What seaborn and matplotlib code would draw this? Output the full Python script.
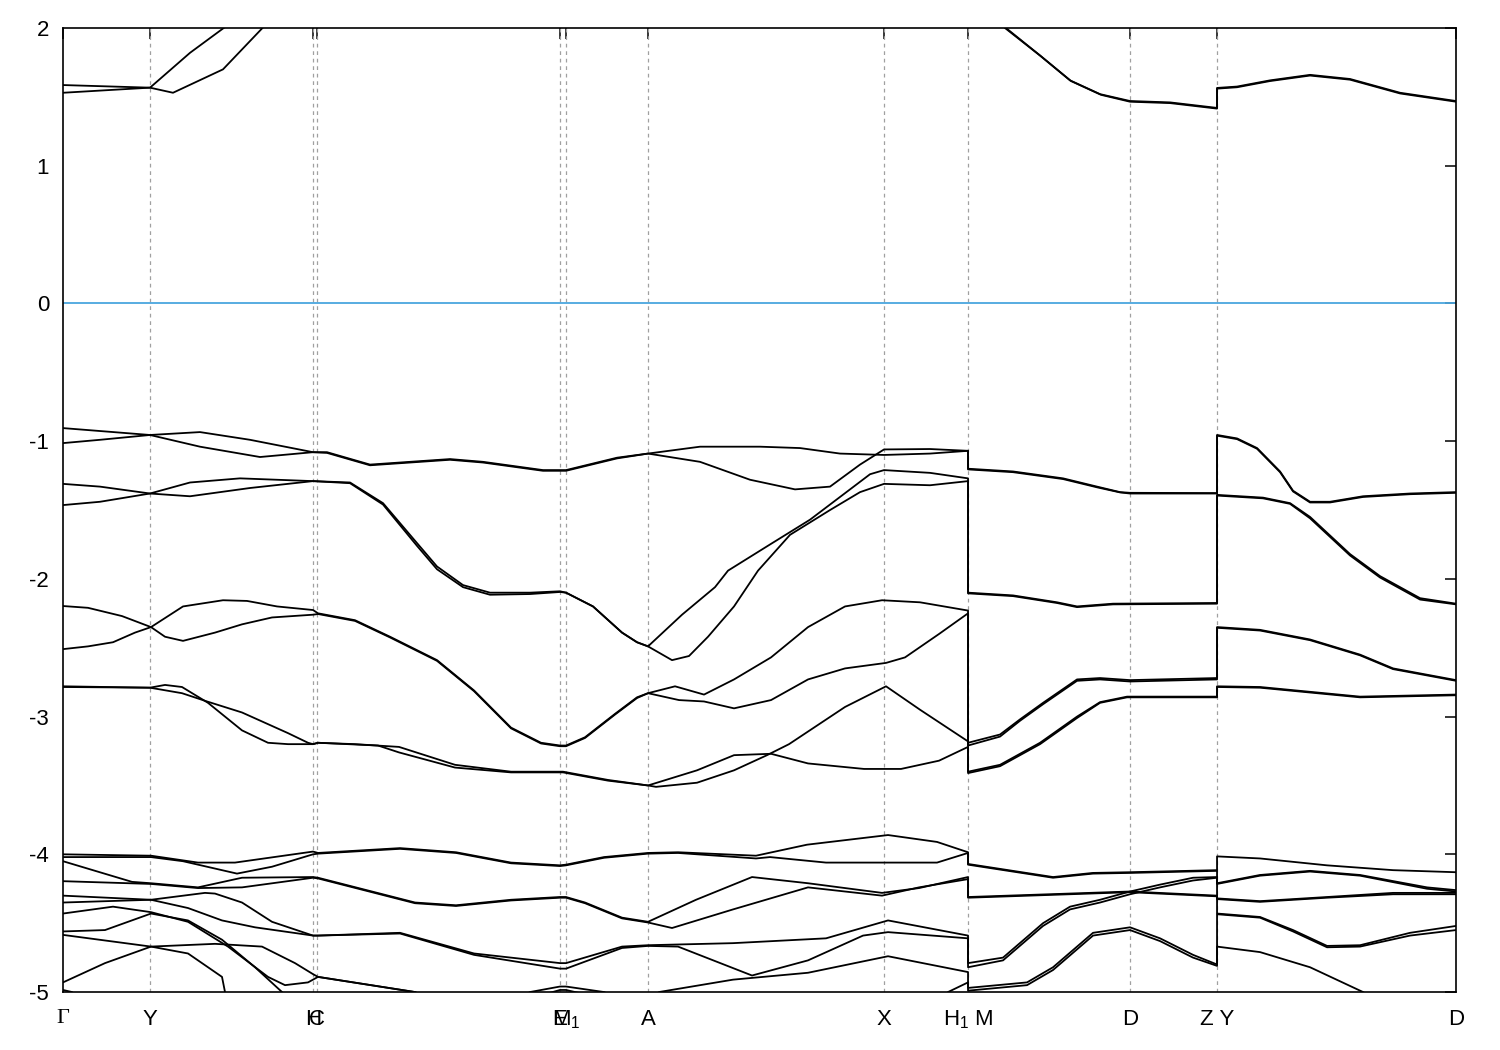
import matplotlib
matplotlib.use("Agg")
import matplotlib.pyplot as plt
import seaborn as sns
import pandas as pd

# high-symmetry points along the k-path
kpoint_pos = [0.0, 0.87, 2.50, 2.54, 4.97, 5.03, 5.85, 8.21, 9.05, 10.67, 11.54, 13.93]
kpoint_labels = ["Γ", "Y", "H", "C", "E", "M$_1$", "A", "X", "H$_1$ M", "D", "Z Y", "D"]
energy_ticks = [2, 1, 0, -1, -2, -3, -4, -5]
fermi_level = 0.0

# conduction bands (k, E)
cb1 = [(0, 1.586), (0.87, 1.567), (1.27, 1.82), (1.70, 2.05)]
cb2 = [(0, 1.53), (0.87, 1.567), (1.10, 1.53), (1.60, 1.70), (2.06, 2.05)]
cb3 = [(9.37, 2.05), (9.42, 2.0), (9.77, 1.80), (10.07, 1.62), (10.37, 1.52), (10.67, 1.47),
       (11.07, 1.46), (11.54, 1.42), (11.54, 1.565), (11.74, 1.575), (12.07, 1.62),
       (12.47, 1.66), (12.87, 1.63), (13.37, 1.53), (13.93, 1.47)]
cb4 = [(9.38, 2.05), (9.43, 2.0), (9.78, 1.795), (10.08, 1.615), (10.38, 1.515), (10.67, 1.465),
       (11.07, 1.455), (11.54, 1.415), (11.54, 1.56), (11.74, 1.57), (12.07, 1.615),
       (12.47, 1.655), (12.87, 1.625), (13.37, 1.525), (13.93, 1.465)]

# valence bands near -1 ... -1.5 eV
v1 = [(0, -0.905), (0.87, -0.955), (1.37, -0.934), (1.87, -0.99), (2.50, -1.08), (2.64, -1.08),
      (3.07, -1.17), (3.87, -1.13), (4.20, -1.15), (4.80, -1.21), (4.97, -1.21), (5.03, -1.21),
      (5.54, -1.12), (5.85, -1.09), (6.37, -1.04), (6.97, -1.04), (7.37, -1.05), (7.77, -1.09),
      (8.21, -1.10), (8.67, -1.09), (9.05, -1.07), (9.05, -1.20), (9.50, -1.22), (10.0, -1.27),
      (10.34, -1.33), (10.57, -1.37), (10.67, -1.375), (11.54, -1.377), (11.54, -0.955),
      (11.74, -0.98), (11.94, -1.05), (12.17, -1.22), (12.30, -1.36), (12.47, -1.44),
      (12.67, -1.44), (13.0, -1.40), (13.47, -1.38), (13.93, -1.37)]
v2 = [(0, -1.014), (0.37, -0.99), (0.87, -0.955), (1.37, -1.04), (1.97, -1.115), (2.50, -1.08),
      (2.64, -1.085), (3.07, -1.175), (3.87, -1.135), (4.20, -1.155), (4.80, -1.215),
      (4.97, -1.215), (5.03, -1.215), (5.54, -1.125), (5.85, -1.09), (6.37, -1.15), (6.87, -1.28),
      (7.32, -1.35), (7.67, -1.33), (7.97, -1.17), (8.21, -1.06), (8.67, -1.057), (9.05, -1.07),
      (9.05, -1.205), (9.50, -1.225), (10.0, -1.275), (10.34, -1.335), (10.57, -1.372),
      (10.67, -1.38), (11.54, -1.38), (11.54, -0.96), (11.74, -0.985), (11.94, -1.055),
      (12.17, -1.225), (12.30, -1.365), (12.47, -1.445), (12.67, -1.445), (13.0, -1.405),
      (13.47, -1.385), (13.93, -1.375)]
v3 = [(0, -1.31), (0.37, -1.33), (0.87, -1.38), (1.27, -1.30), (1.77, -1.27), (2.50, -1.29),
      (2.87, -1.30), (3.20, -1.45), (3.54, -1.74), (3.74, -1.91), (4.00, -2.045), (4.27, -2.10),
      (4.67, -2.10), (4.97, -2.09), (5.03, -2.10), (5.30, -2.20), (5.59, -2.39), (5.74, -2.46),
      (5.85, -2.49), (6.19, -2.26), (6.52, -2.06), (6.65, -1.94), (7.07, -1.75), (7.47, -1.57),
      (7.87, -1.35), (8.07, -1.24), (8.21, -1.21), (8.67, -1.23), (9.05, -1.27), (9.05, -2.10),
      (9.50, -2.12), (9.94, -2.17), (10.14, -2.20), (10.50, -2.18), (11.54, -2.175),
      (11.54, -1.39), (12.0, -1.41), (12.27, -1.45), (12.47, -1.55), (12.87, -1.82),
      (13.17, -1.98), (13.57, -2.14), (13.93, -2.18)]
v4 = [(0, -1.464), (0.37, -1.44), (0.87, -1.38), (1.27, -1.40), (1.87, -1.34), (2.50, -1.29),
      (2.87, -1.305), (3.20, -1.46), (3.54, -1.76), (3.74, -1.93), (4.00, -2.06), (4.27, -2.115),
      (4.67, -2.11), (4.97, -2.095), (5.03, -2.10), (5.30, -2.20), (5.59, -2.39), (5.74, -2.46),
      (5.85, -2.49), (6.09, -2.59), (6.26, -2.56), (6.45, -2.42), (6.71, -2.20), (6.95, -1.94),
      (7.27, -1.68), (7.67, -1.50), (7.97, -1.37), (8.21, -1.31), (8.67, -1.32), (9.05, -1.29),
      (9.05, -2.105), (9.50, -2.125), (9.94, -2.175), (10.14, -2.205), (10.50, -2.185),
      (11.54, -2.18), (11.54, -1.395), (12.0, -1.415), (12.27, -1.455), (12.47, -1.56),
      (12.87, -1.83), (13.17, -1.99), (13.57, -2.15), (13.93, -2.185)]

# valence bands near -2 ... -3.5 eV
v5 = [(0, -2.197), (0.25, -2.21), (0.59, -2.27), (0.88, -2.35), (1.20, -2.20), (1.60, -2.155),
      (1.84, -2.16), (2.14, -2.20), (2.50, -2.226), (2.55, -2.25), (2.92, -2.30), (3.27, -2.42),
      (3.74, -2.59), (4.11, -2.81), (4.48, -3.08), (4.78, -3.19), (4.97, -3.21), (5.03, -3.21),
      (5.22, -3.15), (5.52, -2.98), (5.74, -2.86), (5.85, -2.83), (6.12, -2.78), (6.41, -2.84),
      (6.71, -2.73), (7.08, -2.57), (7.45, -2.35), (7.82, -2.20), (8.19, -2.155), (8.57, -2.17),
      (9.05, -2.23), (9.05, -3.19), (9.37, -3.13), (9.57, -3.02), (9.80, -2.90), (10.14, -2.73),
      (10.37, -2.72), (10.67, -2.735), (11.54, -2.72), (11.54, -2.35), (11.97, -2.37),
      (12.47, -2.44), (12.97, -2.55), (13.30, -2.65), (13.93, -2.735)]
v6 = [(0, -2.51), (0.25, -2.49), (0.50, -2.46), (0.72, -2.39), (0.88, -2.35), (1.02, -2.42),
      (1.20, -2.45), (1.52, -2.39), (1.79, -2.33), (2.09, -2.28), (2.50, -2.26), (2.55, -2.255),
      (2.92, -2.305), (3.27, -2.425), (3.74, -2.595), (4.11, -2.815), (4.48, -3.085),
      (4.78, -3.195), (4.97, -3.215), (5.03, -3.215), (5.22, -3.155), (5.52, -2.985),
      (5.74, -2.865), (5.85, -2.83), (6.16, -2.88), (6.41, -2.89), (6.71, -2.94), (7.08, -2.88),
      (7.45, -2.73), (7.82, -2.65), (8.23, -2.61), (8.42, -2.57), (8.76, -2.40), (9.05, -2.25),
      (9.05, -3.21), (9.37, -3.145), (9.57, -3.03), (9.80, -2.91), (10.14, -2.74), (10.37, -2.73),
      (10.67, -2.745), (11.54, -2.73), (11.54, -2.355), (11.97, -2.375), (12.47, -2.445),
      (12.97, -2.555), (13.30, -2.655), (13.93, -2.74)]
v7 = [(0, -2.785), (0.87, -2.79), (1.02, -2.77), (1.19, -2.785), (1.45, -2.90), (1.79, -3.10),
      (2.05, -3.19), (2.25, -3.20), (2.50, -3.20), (2.55, -3.19), (2.92, -3.20), (3.36, -3.22),
      (3.92, -3.35), (4.48, -3.40), (5.00, -3.40), (5.45, -3.46), (5.85, -3.50), (6.34, -3.39),
      (6.71, -3.28), (7.08, -3.27), (7.45, -3.34), (8.01, -3.38), (8.38, -3.38), (8.76, -3.32),
      (9.05, -3.22), (9.05, -3.41), (9.37, -3.36), (9.77, -3.20), (10.14, -3.01), (10.37, -2.90),
      (10.64, -2.86), (11.54, -2.86), (11.54, -2.785), (11.97, -2.79), (12.97, -2.86),
      (13.93, -2.845)]
v8 = [(0, -2.78), (0.87, -2.79), (1.19, -2.83), (1.44, -2.89), (1.79, -2.97), (2.25, -3.12),
      (2.45, -3.19), (2.50, -3.20), (2.55, -3.19), (3.15, -3.21), (3.36, -3.26), (3.92, -3.37),
      (4.48, -3.405), (5.00, -3.405), (5.45, -3.465), (5.85, -3.50), (5.93, -3.51), (6.34, -3.48),
      (6.71, -3.39), (7.04, -3.28), (7.26, -3.20), (7.82, -2.93), (8.23, -2.78), (8.57, -2.95),
      (9.05, -3.18), (9.05, -3.40), (9.37, -3.35), (9.77, -3.19), (10.14, -3.00), (10.37, -2.895),
      (10.64, -2.855), (11.54, -2.855), (11.54, -2.78), (11.97, -2.785), (12.97, -2.855),
      (13.93, -2.84)]

# valence bands near -4 ... -5 eV
w_a = [(0, -4.00), (0.88, -4.01), (1.35, -4.06), (1.72, -4.06), (2.50, -3.98), (2.55, -3.99),
       (3.37, -3.955), (3.93, -3.985), (4.48, -4.06), (4.97, -4.08), (5.03, -4.075), (5.41, -4.02),
       (5.85, -3.99), (6.15, -3.985), (6.93, -4.01), (7.44, -3.93), (8.25, -3.86), (8.74, -3.91),
       (9.05, -3.985), (9.05, -4.07), (9.90, -4.165), (10.30, -4.135), (10.67, -4.13),
       (11.54, -4.115), (11.54, -4.015), (11.97, -4.03), (12.64, -4.08), (13.30, -4.115),
       (13.93, -4.13)]
w_b = [(0, -4.02), (0.88, -4.02), (1.20, -4.05), (1.74, -4.14), (2.09, -4.09), (2.50, -4.00),
       (2.55, -3.995), (3.37, -3.96), (3.93, -3.99), (4.48, -4.065), (4.97, -4.085), (5.03, -4.08),
       (5.41, -4.025), (5.85, -3.995), (6.15, -3.99), (6.93, -4.03), (7.07, -4.02), (7.63, -4.06),
       (8.25, -4.06), (8.74, -4.06), (9.05, -3.99), (9.05, -4.075), (9.90, -4.17), (10.30, -4.14),
       (10.67, -4.135), (11.54, -4.12), (11.54, -4.21), (11.97, -4.15), (12.47, -4.12),
       (12.97, -4.15), (13.64, -4.24), (13.93, -4.26)]
w_c = [(0, -4.05), (0.69, -4.20), (0.88, -4.21), (1.35, -4.24), (1.79, -4.17), (2.50, -4.165),
       (2.55, -4.17), (3.52, -4.35), (3.93, -4.37), (4.48, -4.33), (4.97, -4.31), (5.03, -4.31),
       (5.22, -4.35), (5.59, -4.46), (5.85, -4.49), (6.33, -4.33), (6.89, -4.165), (7.45, -4.21),
       (8.19, -4.28), (8.56, -4.245), (9.05, -4.165), (9.05, -4.31), (10.67, -4.27),
       (11.54, -4.30), (11.54, -4.32), (11.97, -4.34), (12.64, -4.31), (13.30, -4.28),
       (13.93, -4.28)]
w_d = [(0, -4.195), (0.88, -4.215), (1.35, -4.245), (1.79, -4.24), (2.50, -4.17), (2.55, -4.175),
       (3.52, -4.355), (3.93, -4.375), (4.48, -4.335), (4.97, -4.315), (5.03, -4.315),
       (5.22, -4.355), (5.59, -4.465), (5.85, -4.495), (6.09, -4.535), (6.70, -4.40),
       (7.45, -4.24), (8.19, -4.30), (8.56, -4.24), (9.05, -4.18), (9.05, -4.315), (10.67, -4.275),
       (11.54, -4.305), (11.54, -4.325), (11.97, -4.345), (12.64, -4.315), (13.30, -4.29),
       (13.93, -4.29)]
w_e = [(0, -4.30), (0.88, -4.33), (1.42, -4.28), (1.52, -4.285), (1.79, -4.35), (2.09, -4.49),
       (2.50, -4.59), (2.55, -4.59), (3.37, -4.57), (4.11, -4.72), (4.97, -4.79), (5.03, -4.79),
       (5.59, -4.67), (5.85, -4.66), (6.70, -4.645), (7.63, -4.61), (8.25, -4.48), (9.05, -4.59),
       (9.05, -4.79), (9.40, -4.75), (9.80, -4.50), (10.07, -4.38), (10.37, -4.33), (10.67, -4.27),
       (10.97, -4.22), (11.30, -4.17), (11.54, -4.165), (11.54, -4.215), (11.97, -4.155),
       (12.47, -4.125), (12.97, -4.155), (13.64, -4.25), (13.93, -4.27)]
w_f = [(0, -4.35), (0.88, -4.33), (1.25, -4.39), (1.59, -4.48), (1.92, -4.53), (2.50, -4.59),
       (2.55, -4.59), (3.37, -4.575), (4.11, -4.73), (4.97, -4.83), (5.03, -4.83), (5.59, -4.68),
       (5.85, -4.665), (6.15, -4.67), (6.89, -4.88), (7.45, -4.77), (8.00, -4.59), (8.25, -4.565),
       (9.05, -4.61), (9.05, -4.82), (9.40, -4.77), (9.80, -4.52), (10.07, -4.40), (10.37, -4.35),
       (10.67, -4.29), (10.97, -4.24), (11.30, -4.19), (11.54, -4.17), (11.54, -4.43),
       (11.97, -4.455), (12.30, -4.55), (12.64, -4.665), (12.97, -4.66), (13.47, -4.57),
       (13.93, -4.52)]
w_g = [(0, -4.43), (0.50, -4.38), (0.88, -4.42), (1.25, -4.49), (1.65, -4.67), (2.05, -4.89),
       (2.22, -4.95), (2.45, -4.93), (2.55, -4.89), (3.52, -5.0), (3.60, -5.03)]
w_h = [(0, -4.56), (0.42, -4.55), (0.88, -4.43), (1.25, -4.48), (1.59, -4.62), (1.92, -4.82),
       (2.19, -5.0), (2.25, -5.04)]
w_i = [(0, -4.585), (0.88, -4.67), (1.52, -4.65), (1.99, -4.67), (2.32, -4.79), (2.50, -4.87),
       (2.55, -4.89), (3.52, -5.0), (3.60, -5.03)]
w_j = [(0, -4.93), (0.42, -4.79), (0.88, -4.67), (1.25, -4.72), (1.59, -4.89), (1.62, -5.0),
       (1.65, -5.04)]
w_k = [(0, -4.985), (0.09, -5.0), (0.12, -5.03)]
w_t1 = [(5.90, -5.05), (5.96, -5.0), (6.70, -4.91), (7.45, -4.86), (8.25, -4.74), (9.05, -4.855),
        (9.05, -4.97), (9.64, -4.93), (9.90, -4.82), (10.30, -4.57), (10.67, -4.53),
        (10.97, -4.61), (11.30, -4.73), (11.54, -4.80), (11.54, -4.435), (11.97, -4.46),
        (12.30, -4.56), (12.64, -4.675), (12.97, -4.67), (13.47, -4.59), (13.93, -4.55)]
w_t2 = [(8.80, -5.05), (8.85, -5.0), (9.05, -4.93), (9.05, -4.99), (9.64, -4.95), (9.90, -4.84),
        (10.30, -4.59), (10.67, -4.55), (10.97, -4.63), (11.30, -4.75), (11.54, -4.81),
        (11.54, -4.67), (11.97, -4.71), (12.47, -4.82), (13.00, -5.0), (13.10, -5.05)]
w_m1 = [(4.60, -5.03), (4.67, -5.0), (4.97, -4.96), (5.03, -4.96), (5.41, -5.0), (5.50, -5.03)]
w_m2 = [(4.75, -5.03), (4.97, -4.985), (5.03, -4.985), (5.30, -5.03)]

conduction = [cb1, cb2, cb3, cb4]
valence_top = [v1, v2, v3, v4]
valence_mid = [v5, v6, v7, v8]
valence_low = [w_a, w_b, w_c, w_d, w_e, w_f, w_g, w_h, w_i, w_j, w_k, w_t1, w_t2, w_m1, w_m2]

rows = []
n = 0
for group in [conduction, valence_top, valence_mid, valence_low]:
    for band in group:
        for k, e in band:
            rows.append({"k": k, "E": e, "band": n})
        n += 1
df = pd.DataFrame(rows)

sns.set_style("white")
plt.rcParams["font.family"] = ["Liberation Sans", "DejaVu Sans"]
plt.rcParams["mathtext.fontset"] = "custom"
plt.rcParams["mathtext.rm"] = "Liberation Sans"
plt.rcParams["mathtext.it"] = "Liberation Sans"
plt.rcParams["axes.unicode_minus"] = False

fig = plt.figure(figsize=(15, 10.5), dpi=100)
ax = fig.add_axes([0.042, 0.0552, 0.9287, 0.9181])

# dotted lines at the high-symmetry points
for x in kpoint_pos[1:-1]:
    ax.axvline(x, color="#a0a0a0", lw=0.9, ls=(0, (3, 3)), zorder=1)

ax.axhline(fermi_level, color="#4aa6de", lw=1.3, zorder=2)

sns.lineplot(data=df, x="k", y="E", units="band", estimator=None, sort=False,
             color="black", lw=1.3, ax=ax, zorder=3)

ax.set_xlim(kpoint_pos[0], kpoint_pos[-1])
ax.set_ylim(-5, 2)
ax.set_xticks(kpoint_pos)
ax.set_xticklabels(kpoint_labels)
ax.set_yticks(energy_ticks)
ax.set_yticklabels([str(t) for t in energy_ticks])
ax.set_xlabel("")
ax.set_ylabel("")
ax.get_xticklabels()[0].set_fontfamily("Liberation Serif")

ax.tick_params(axis="both", direction="in", length=8, width=1.1, top=True, right=True,
               labelsize=16, colors="black")
ax.tick_params(axis="x", pad=12)
ax.tick_params(axis="y", pad=10)
for s in ax.spines.values():
    s.set_linewidth(1.2)
    s.set_color("black")

fig.savefig("out.png", dpi=100, facecolor="white")
